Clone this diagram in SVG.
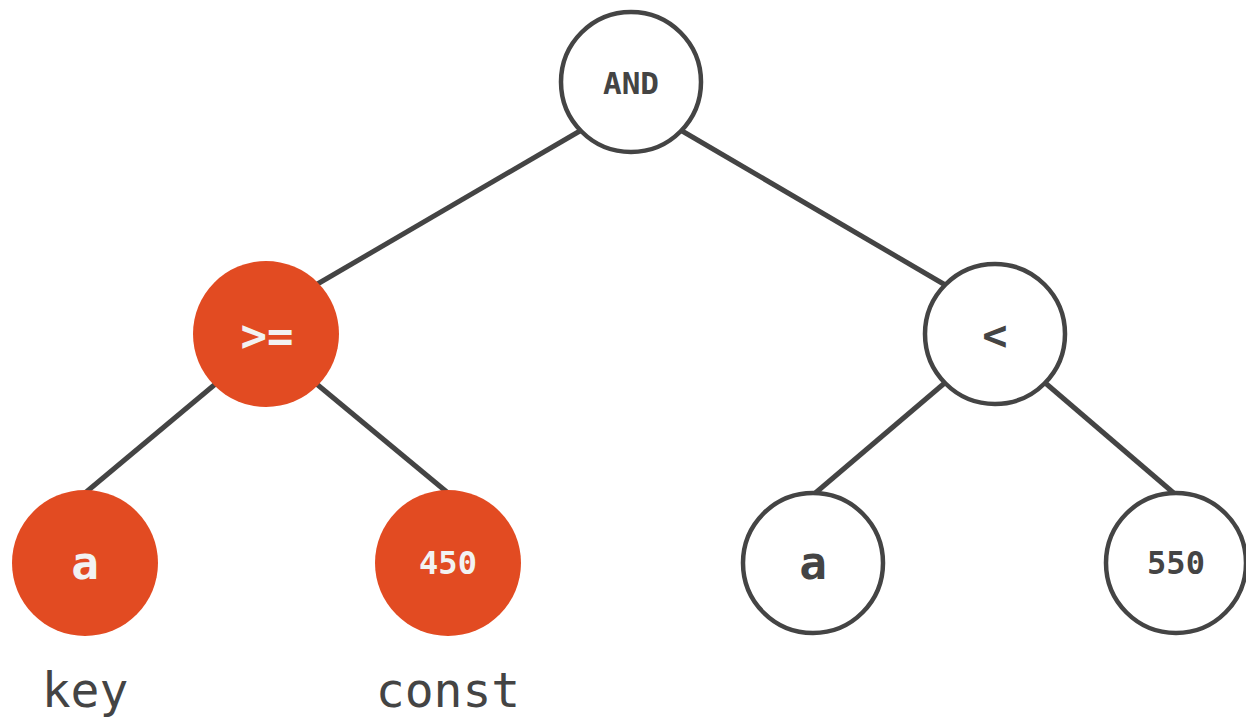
<svg xmlns="http://www.w3.org/2000/svg" width="1246" height="719" viewBox="0 0 1246 719">
<style>
.edge{stroke:#444444;stroke-width:5;fill:none}
.on{fill:#E24B22;stroke:none}
.off{fill:#FFFFFF;stroke:#444444;stroke-width:4.5}
.t{font-family:"DejaVu Sans Mono","Liberation Mono",monospace;font-weight:bold;text-anchor:middle;dominant-baseline:central}
.tw{fill:#F2F2F2}
.td{fill:#444444}
.lbl{font-family:"DejaVu Sans Mono","Liberation Mono",monospace;font-size:48px;fill:#444444;text-anchor:middle}
</style>
<rect width="1246" height="719" fill="#FFFFFF"/>
<g id="connectors">
<line class="edge" x1="585" y1="128" x2="314" y2="286"/>
<line class="edge" x1="677" y1="128" x2="947" y2="286"/>
<line class="edge" x1="219" y1="381" x2="85" y2="493"/>
<line class="edge" x1="313" y1="381" x2="448" y2="493"/>
<line class="edge" x1="947" y1="381" x2="813" y2="495"/>
<line class="edge" x1="1043" y1="381" x2="1176" y2="495"/>
</g>
<g id="node-and">
<circle class="off" cx="631" cy="82" r="70"/>
<text class="t td" x="631" y="83" font-size="31">AND</text>
</g>
<g id="node-ge">
<circle class="on" cx="266" cy="334" r="73"/>
<text class="t tw" x="267" y="335" font-size="44">&gt;=</text>
</g>
<g id="node-lt">
<circle class="off" cx="995" cy="334" r="70"/>
<text class="t td" x="995" y="335" font-size="42">&lt;</text>
</g>
<g id="node-a-key">
<circle class="on" cx="85" cy="563" r="73"/>
<text class="t tw" x="85" y="563" font-size="46">a</text>
</g>
<g id="node-450">
<circle class="on" cx="448" cy="563" r="73"/>
<text class="t tw" x="448" y="563" font-size="32">450</text>
</g>
<g id="node-a">
<circle class="off" cx="813" cy="563" r="70"/>
<text class="t td" x="813" y="563" font-size="46">a</text>
</g>
<g id="node-550">
<circle class="off" cx="1176" cy="563" r="70"/>
<text class="t td" x="1176" y="563" font-size="32">550</text>
</g>
<g id="labels">
<text class="lbl" x="85" y="707">key</text>
<text class="lbl" x="448" y="707">const</text>
</g>
</svg>
